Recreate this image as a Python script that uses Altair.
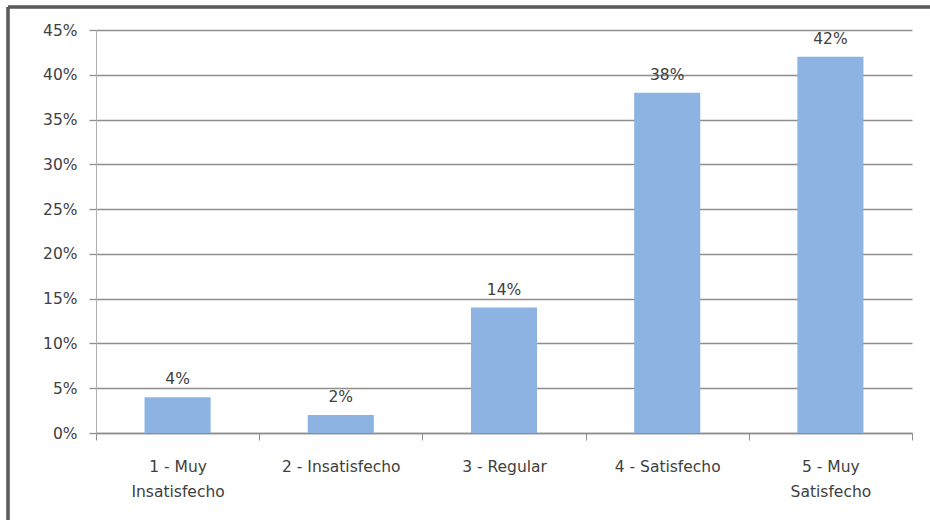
import altair as alt
import pandas as pd

# Survey satisfaction levels and share of responses
categories = [
    "1 - Muy Insatisfecho",
    "2 - Insatisfecho",
    "3 - Regular",
    "4 - Satisfecho",
    "5 - Muy Satisfecho",
]
shares = [0.04, 0.02, 0.14, 0.38, 0.42]
share_labels = ["4%", "2%", "14%", "38%", "42%"]

df = pd.DataFrame({"nivel": categories, "valor": shares, "etiqueta": share_labels})

FONT = "DejaVu Sans"
TEXT_COLOR = "#404040"
GRID = "#8e8e8e"

x_enc = alt.X(
    "nivel:N",
    sort=categories,
    scale=alt.Scale(paddingInner=0, paddingOuter=0),
    axis=alt.Axis(
        title=None,
        labelAngle=0,
        tickBand="extent",
        tickSize=7,
        tickColor=GRID,
        domainColor=GRID,
        domainWidth=1.3,
        labelFont=FONT,
        labelFontSize=15.5,
        labelColor=TEXT_COLOR,
        labelPadding=19,
        labelLineHeight=25,
        labelExpr="length(datum.label) > 16 ? [slice(datum.label, 0, 7), slice(datum.label, 8)] : datum.label",
    ),
)

y_enc = alt.Y(
    "valor:Q",
    scale=alt.Scale(domain=[0, 0.45], nice=False),
    axis=alt.Axis(
        title=None,
        format=".0%",
        values=[i / 100 for i in range(0, 46, 5)],
        tickSize=7,
        tickColor=GRID,
        tickWidth=1.3,
        gridColor=GRID,
        gridWidth=1.3,
        domainColor="#b0b0b0",
        labelFont=FONT,
        labelFontSize=15.5,
        labelColor=TEXT_COLOR,
        labelPadding=12,
    ),
)

bars = alt.Chart(df).mark_bar(
    color="#8db3e2", width=alt.RelativeBandSize(0.405)
).encode(x=x_enc, y=y_enc)

labels = alt.Chart(df).mark_text(
    baseline="bottom", dy=-10, font=FONT, fontSize=15.5, color=TEXT_COLOR
).encode(x=alt.X("nivel:N", sort=categories), y="valor:Q", text="etiqueta:N")

# Outer border of the figure (top and left edges)
frame_top = alt.Chart(df).mark_rule(color="#5a5a5a", strokeWidth=2.5).encode(
    x=alt.value(-88), x2=alt.value(840), y=alt.value(-23)
)
frame_left = alt.Chart(df).mark_rule(color="#5a5a5a", strokeWidth=2.5).encode(
    x=alt.value(-88), y=alt.value(-23), y2=alt.value(520)
)

chart = (
    alt.layer(bars, labels, frame_top, frame_left)
    .properties(
        width=816,
        height=403,
        padding={"left": 96, "top": 30, "right": 18, "bottom": 87},
        autosize=alt.AutoSizeParams(type="none"),
        background="white",
    )
    .configure_view(stroke=None)
)

chart.save("out.html", embed_options={"renderer": "svg", "actions": False})
